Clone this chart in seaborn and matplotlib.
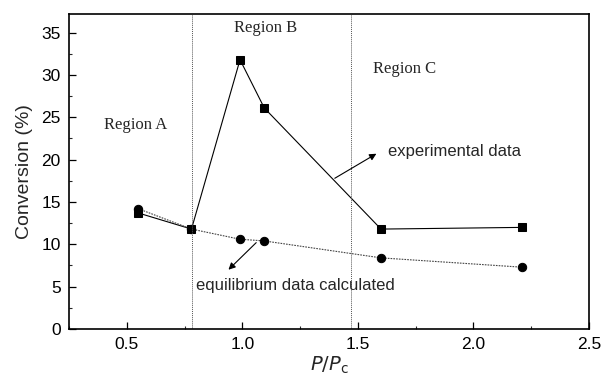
import matplotlib
matplotlib.use("Agg")
import matplotlib.pyplot as plt
from matplotlib.ticker import MultipleLocator
import seaborn as sns
import pandas as pd

# Data
p_ratio = [0.55, 0.78, 0.99, 1.095, 1.60, 2.21]
experimental = [13.7, 11.8, 31.8, 26.1, 11.8, 12.0]
equilibrium = [14.2, 11.8, 10.6, 10.4, 8.4, 7.3]
region_bounds = [0.784, 1.47]
region_labels = ["Region A", "Region B", "Region C"]
x_ticks = [0.5, 1.0, 1.5, 2.0, 2.5]
y_ticks = [0, 5, 10, 15, 20, 25, 30, 35]

df_exp = pd.DataFrame({"x": p_ratio, "y": experimental})
df_eq = pd.DataFrame({"x": p_ratio, "y": equilibrium})

sns.set_theme(style="ticks")
plt.rcParams["font.family"] = ["Liberation Sans", "DejaVu Sans"]

fig = plt.figure(figsize=(6.03, 3.78), dpi=100)
ax = fig.add_axes([69/603, 1 - 329/378, (589 - 69)/603, (329 - 14)/378])

sns.lineplot(data=df_exp, x="x", y="y", ax=ax, sort=False, color="black",
             linewidth=0.8, marker="s", markersize=6, markeredgecolor="black",
             markerfacecolor="black")
sns.lineplot(data=df_eq, x="x", y="y", ax=ax, sort=False, color="#444444",
             linewidth=0.8, linestyle=(0, (1.5, 1)), marker="o", markersize=6,
             markeredgecolor="black", markerfacecolor="black")

for b in region_bounds:
    ax.axvline(b, color="#555555", linewidth=0.7, linestyle=(0, (1, 1)))

ax.set_xlim(0.25, 2.5)
ax.set_ylim(0, 37.2)
ax.set_xticks(x_ticks)
ax.set_yticks(y_ticks)
ax.set_xticklabels([f"{t:.1f}" for t in x_ticks])
ax.set_yticklabels([str(t) for t in y_ticks])
ax.xaxis.set_minor_locator(MultipleLocator(0.25))
ax.yaxis.set_minor_locator(MultipleLocator(2.5))
ax.tick_params(which="major", direction="in", length=5, width=0.9,
               labelsize=12.5, colors="black", pad=6)
ax.tick_params(which="minor", direction="in", length=2.5, width=0.8)
ax.tick_params(top=False, right=False, which="both")
for s in ax.spines.values():
    s.set_linewidth(1.2)
    s.set_color("black")

ax.set_xlabel(r"$P/P_{\rm c}$", fontsize=14, labelpad=2)
ax.set_ylabel("Conversion (%)", fontsize=14, labelpad=6)

serif = ["Liberation Serif", "DejaVu Serif"]
ax.text(0.54, 24.1, region_labels[0], ha="center", va="center",
        fontsize=12, family=serif)
ax.text(1.10, 35.6, region_labels[1], ha="center", va="center",
        fontsize=12, family=serif)
ax.text(1.70, 30.7, region_labels[2], ha="center", va="center",
        fontsize=12, family=serif)

ax.annotate("", xy=(1.58, 20.7), xytext=(1.40, 17.8),
            arrowprops=dict(arrowstyle="-|>", color="black", lw=0.8,
                            mutation_scale=10, shrinkA=0, shrinkB=0))
ax.text(1.63, 21.0, "experimental data", fontsize=12, va="center")
ax.annotate("", xy=(0.94, 7.0), xytext=(1.06, 10.2),
            arrowprops=dict(arrowstyle="-|>", color="black", lw=0.8,
                            mutation_scale=10, shrinkA=0, shrinkB=0))
ax.text(0.80, 5.1, "equilibrium data calculated", fontsize=12, va="center")

fig.savefig("out.png", dpi=100)
